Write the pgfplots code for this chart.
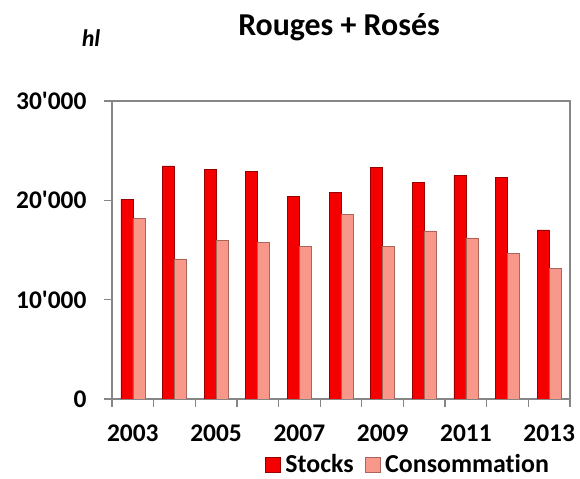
\documentclass[border=0pt]{standalone}
\usepackage{fontspec}
\setmainfont{Carlito}[Ligatures=NoCommon]
\usepackage{pgfplots}
\pgfplotsset{compat=1.18}
\definecolor{stk}{RGB}{245,0,0}
\definecolor{stkedge}{RGB}{150,0,0}
\definecolor{cons}{RGB}{248,152,138}
\definecolor{consedge}{RGB}{170,100,90}
\definecolor{axgray}{RGB}{134,134,134}
\begin{document}
\begin{tikzpicture}[x=1bp,y=1bp]
\path[use as bounding box] (0,0) rectangle (580,479);
\begin{axis}[
  at={(112bp,80bp)}, anchor=south west,
  width=458bp, height=298bp, scale only axis,
  xmin=-0.5, xmax=10.5, ymin=0, ymax=30000,
  ybar=0pt, bar width=12bp,
  xtick={0,2,4,6,8,10},
  xticklabels={2003,2005,2007,2009,2011,2013},
  major x tick style={draw=none},
  minor xtick={-0.5,0.5,...,10.5},
  ytick={0,10000,20000,30000},
  yticklabels={0,10\textquotesingle000,20\textquotesingle000,30\textquotesingle000},
  scaled y ticks=false,
  tick align=outside, tick pos=left,
  major tick length=8bp, minor tick length=8bp,
  axis line style={axgray, line width=1.3bp},
  every tick/.style={axgray, line width=1.3bp},
  minor tick style={axgray, line width=1.3bp},
  ticklabel style={font=\fontsize{25.5}{29}\selectfont\bfseries},
  xticklabel style={yshift=-14bp},
  yticklabel style={xshift=-14bp},
  legend style={draw=none, fill=none, legend columns=2, at={(0.645,-0.219)}, anchor=center,
    inner sep=0pt, nodes={inner ysep=0pt, inner xsep=1bp},
    font=\fontsize{26}{29}\selectfont\bfseries,
    /tikz/every odd column/.append style={column sep=4bp},
    /tikz/every even column/.append style={column sep=10bp}},
  legend image code/.code={\draw[#1] (0bp,-7.5bp) rectangle (15bp,7.5bp);},
]
\addplot[fill=stk, draw=stkedge, line width=0.5bp] coordinates {
(0,20100) (1,23480) (2,23090) (3,22880) (4,20430) (5,20830)
(6,23320) (7,21780) (8,22510) (9,22340) (10,17020)};
\addplot[fill=cons, draw=consedge, line width=0.5bp] coordinates {
(0,18160) (1,14100) (2,15950) (3,15750) (4,15350) (5,18560)
(6,15380) (7,16920) (8,16210) (9,14670) (10,13140)};
\legend{Stocks,Consommation}
\end{axis}
\node[font=\fontsize{32}{36}\selectfont\bfseries] at (339,452) {Rouges + Rosés};
\node[font=\fontsize{24}{28}\selectfont\bfseries\itshape] at (91,441) {hl};
\end{tikzpicture}
\end{document}
